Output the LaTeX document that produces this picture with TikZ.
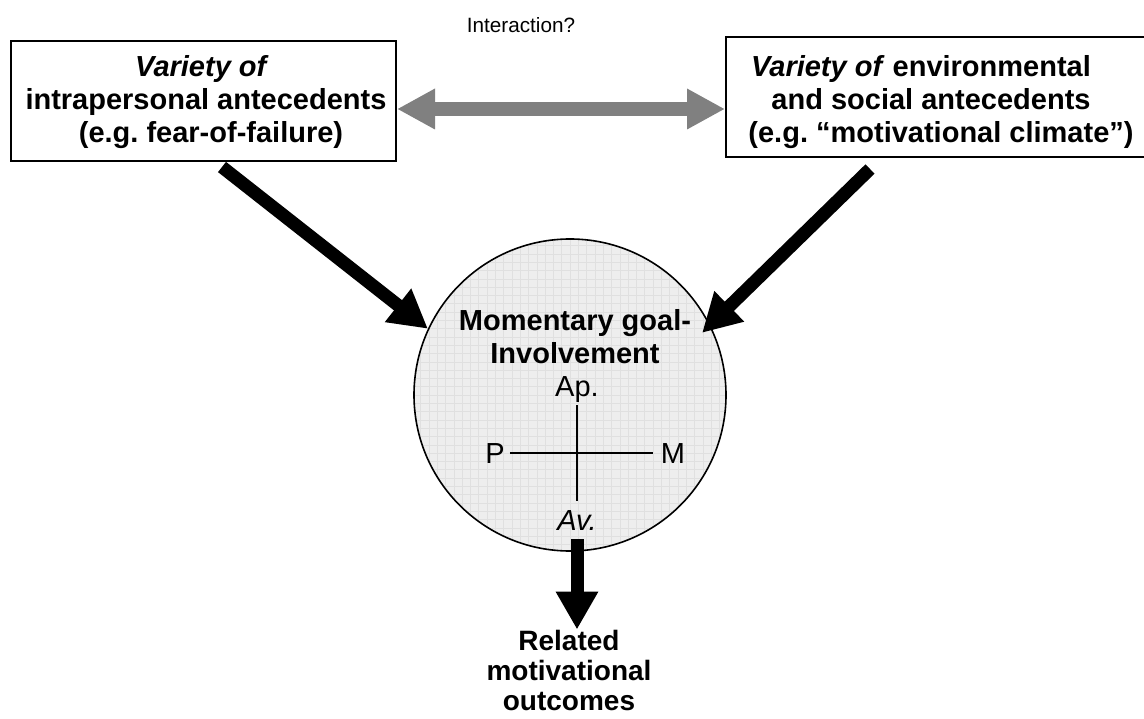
\documentclass[tikz,border=0pt]{standalone}
\usepackage{fontspec}
\setmainfont{Liberation Sans}
\frenchspacing
\usetikzlibrary{arrows.meta,calc}

\tikzset{
  antebox/.style={draw, line width=2pt, rectangle, inner sep=0pt},
  boxtext/.style={align=center, inner sep=0pt, font=\fontsize{29}{33}\selectfont\bfseries},
  axislabel/.style={inner sep=2pt, font=\fontsize{29}{33}\selectfont},
  bigarrow/.style={line width=13pt, -{Triangle[length=38pt,width=40pt]}},
  grayarrow/.style={line width=14pt, draw=arrowgray,
    {Triangle[length=38pt,width=38pt]}-{Triangle[length=38pt,width=38pt]}},
}
\definecolor{arrowgray}{HTML}{808080}
\definecolor{discfill}{HTML}{EEEEEE}
\definecolor{discgrid}{HTML}{E0E0E0}

\begin{document}
\begin{tikzpicture}[x=1pt,y=1pt]
\useasboundingbox (0,0) rectangle (1144,-719);
\clip (0,0) rectangle (1144,-719);

% antecedent boxes (the right one runs off the page edge)
\node[antebox, minimum width=385pt, minimum height=120pt] (lb) at (203.5,-101) {};
\node[boxtext] (lbt) at (202,-102.5) {\textit{Variety of}\\\hspace*{8pt}intrapersonal antecedents\\\hspace*{18pt}(e.g. fear-of-failure)};

\node[antebox, minimum width=500pt, minimum height=120pt] (rb) at (976,-97) {};
\node[boxtext] (rbt) at (921,-102) {\textit{Variety of} environmental\\\hspace*{20pt}and social antecedents\\\hspace*{40pt}(e.g. ``motivational climate'')};

% interaction label and two-way arrow
\node[anchor=base, inner sep=0pt, font=\fontsize{20.7}{24}\selectfont] (inter) at (521,-33) {Interaction?};
\draw[grayarrow] ([yshift=-8pt]lb.east) -- ([yshift=-12pt]rb.west);

% goal-involvement disc
\node[circle, draw, line width=1.6pt, minimum size=312pt, fill=discfill,
  path picture={\draw[discgrid, line width=0.5pt, step=8.3pt]
    (path picture bounding box.south west) grid (path picture bounding box.north east);}]
  (circ) at (570,-395) {};
\node[boxtext] (goal) at (575,-337) {Momentary goal-\\Involvement};

\node[axislabel, anchor=base] (ap) at (577,-397) {Ap.};
\node[axislabel, anchor=base] (av) at (577,-530) {\itshape Av.};
\node[axislabel, anchor=base] (p) at (495,-463) {P};
\node[axislabel, anchor=base] (m) at (673,-463) {M};
\draw[line width=1.5pt] (ap.south) -- ([yshift=7pt]av.north);
\draw[line width=1.5pt] ([xshift=3pt]p.east) -- ([xshift=-6pt]m.west);

% outcome label
\node[align=center, inner sep=0pt, font=\fontsize{28}{30}\selectfont\bfseries] (out) at (569,-670)
  {Related\\motivational\\outcomes};

% influence arrows
\coordinate (rtip) at ($(circ.center)+(25.2:146)$);
\draw[bigarrow] ([xshift=18.5pt,yshift=-5pt]lb.south) -- (circ.155);
\draw[bigarrow] ([xshift=-106pt,yshift=-11pt]rb.south) -- (rtip);
\draw[bigarrow] ([yshift=-7pt]av.south) -- (av.south |- out.north);
\end{tikzpicture}
\end{document}
